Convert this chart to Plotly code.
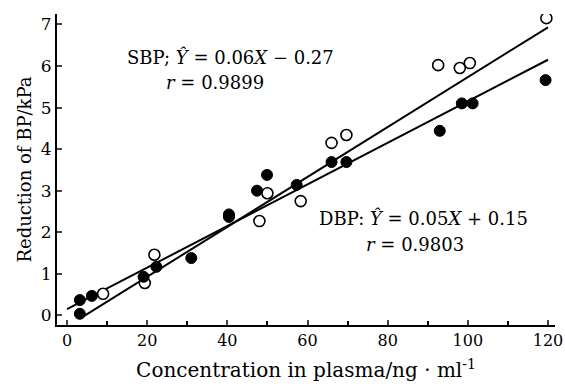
import plotly.graph_objects as go

# Data
sbp_x = [9, 19.4, 21.8, 48, 50, 58.3, 66, 69.7, 92.6, 98, 100.5, 119.6]
sbp_y = [0.52, 0.78, 1.46, 2.27, 2.94, 2.75, 4.15, 4.34, 6.02, 5.95, 6.07, 7.15]

dbp_x = [3.2, 3.2, 6.2, 19.1, 22.3, 31, 40.4, 40.4, 47.4, 49.9, 57.3, 66, 69.7, 93, 98.5, 101.2, 119.4]
dbp_y = [0.04, 0.37, 0.47, 0.93, 1.17, 1.38, 2.43, 2.37, 3.0, 3.38, 3.14, 3.69, 3.69, 4.44, 5.1, 5.1, 5.66]

# Regression lines (from printed equations)
sbp_slope, sbp_icpt = 0.06, -0.27
dbp_slope, dbp_icpt = 0.05, 0.15
sbp_fit_x = [4, 120]
dbp_fit_x = [0, 120]

x_ticks = [0, 20, 40, 60, 80, 100, 120]
y_ticks = [0, 1, 2, 3, 4, 5, 6, 7]

FONT = "DejaVu Serif"

fig = go.Figure()
fig.add_trace(go.Scatter(
    x=sbp_fit_x, y=[sbp_slope * v + sbp_icpt for v in sbp_fit_x],
    mode="lines", line=dict(color="black", width=2), showlegend=False))
fig.add_trace(go.Scatter(
    x=dbp_fit_x, y=[dbp_slope * v + dbp_icpt for v in dbp_fit_x],
    mode="lines", line=dict(color="black", width=2), showlegend=False))
fig.add_trace(go.Scatter(
    x=sbp_x, y=sbp_y, mode="markers",
    marker=dict(symbol="circle", size=11, color="white", line=dict(color="black", width=1.6)),
    showlegend=False))
fig.add_trace(go.Scatter(
    x=dbp_x, y=dbp_y, mode="markers",
    marker=dict(symbol="circle", size=11, color="black", line=dict(color="black", width=1)),
    showlegend=False))

ann_font = dict(family=FONT, size=18, color="black")
fig.add_annotation(x=14.4, y=6.22, xref="x", yref="y", xanchor="left", yanchor="middle",
                   text="SBP; <i>Ŷ</i> = 0.06<i>X</i> − 0.27", showarrow=False, font=ann_font)
fig.add_annotation(x=24.3, y=5.6, xref="x", yref="y", xanchor="left", yanchor="middle",
                   text="<i>r</i> = 0.9899", showarrow=False, font=ann_font)
fig.add_annotation(x=62.3, y=2.35, xref="x", yref="y", xanchor="left", yanchor="middle",
                   text="DBP: <i>Ŷ</i> = 0.05<i>X</i> + 0.15", showarrow=False, font=ann_font)
fig.add_annotation(x=74, y=1.7, xref="x", yref="y", xanchor="left", yanchor="middle",
                   text="<i>r</i> = 0.9803", showarrow=False, font=ann_font)

fig.update_layout(
    width=565, height=388,
    margin=dict(l=57, r=10, t=14, b=63),
    plot_bgcolor="white", paper_bgcolor="white",
    font=dict(family=FONT, size=16, color="black"),
    xaxis=dict(range=[-2.5, 121.75], tickvals=x_ticks, ticks="inside", ticklen=5, tickwidth=1.5,
               showline=True, linecolor="black", linewidth=2, showgrid=False, zeroline=False,
               tickfont=dict(family=FONT, size=16), ticklabeloverflow="allow", automargin=False,
               minor=dict(dtick=10, ticks="inside", ticklen=4, tickcolor="black"),
               title=dict(text="Concentration in plasma/ng · ml<sup>-1</sup>", standoff=14,
                          font=dict(family=FONT, size=20))),
    yaxis=dict(range=[-0.23, 7.25], tickvals=y_ticks, ticks="inside", ticklen=5, tickwidth=1.5,
               showline=True, linecolor="black", linewidth=2, showgrid=False, zeroline=False,
               tickfont=dict(family=FONT, size=17), automargin=False,
               title=dict(text="Reduction of BP/kPa", standoff=4,
                          font=dict(family=FONT, size=18))),
)

fig.write_html("out.html")
